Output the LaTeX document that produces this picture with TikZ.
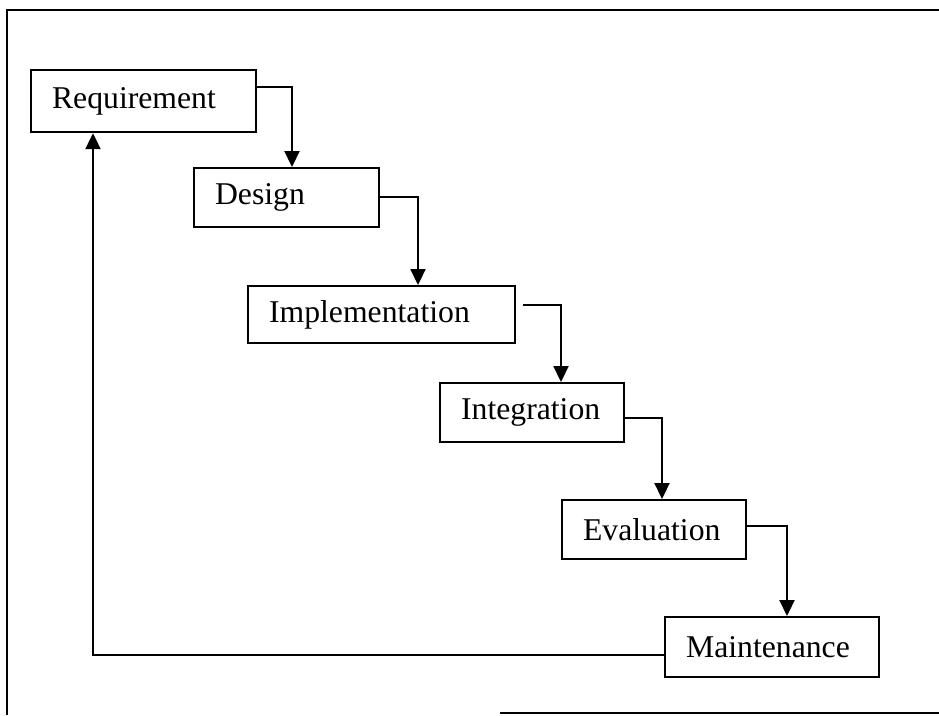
\documentclass[tikz,border=0pt]{standalone}
\usepackage{fontspec}
\setmainfont{Liberation Serif}
\usetikzlibrary{arrows.meta,calc}
\begin{document}
\begin{tikzpicture}[x=1pt,y=-1pt,
  stage/.style={draw, line width=2.2pt, rectangle, anchor=north west,
    inner xsep=21pt, inner ysep=0pt, align=left,
    font=\fontsize{31.7pt}{38pt}\selectfont},
  arr/.style={line width=2.2pt, -{Triangle[length=16pt,width=15pt]}},
  frame/.style={line width=2.2pt}]
\useasboundingbox (0,0) rectangle (939,715);
\fill[white] (0,0) rectangle (939,715);
% frame
\coordinate (f1) at (939,10);
\coordinate (f2) at (7,10);
\coordinate (f3) at (7,715);
\coordinate (f4) at (500,713);
\coordinate (f5) at (939,713);
\draw[frame] (f1) -- (f2) -- (f3);
\draw[frame] (f4) -- (f5);
% stages
\node[stage, minimum width=225pt, minimum height=62pt, text width=183pt] (req) at (30,69) {Requirement};
\node[stage, minimum width=185pt, minimum height=59pt, text width=143pt] (des) at (193,167) {Design};
\node[stage, minimum width=267pt, minimum height=57pt, text width=225pt] (imp) at (247,285) {Implementation};
\node[stage, minimum width=184pt, minimum height=59pt, text width=142pt] (int) at (439,382) {Integration};
\node[stage, minimum width=184pt, minimum height=59pt, text width=142pt] (eva) at (561,499) {Evaluation};
\node[stage, minimum width=214pt, minimum height=60pt, text width=172pt] (mnt) at (664,616) {Maintenance};
% connectors
\draw[arr] ($(req.north east)+(0,18)$) -| ($(des.north west)+(99,0)$);
\draw[arr] ($(des.north east)+(0,30)$) -| ($(imp.north west)+(171,0)$);
\draw[arr] ($(imp.north east)+(7,20)$) -| ($(int.north west)+(122,0)$);
\draw[arr] ($(int.north east)+(0,36)$) -| ($(eva.north west)+(101,0)$);
\draw[arr] ($(eva.north east)+(0,27)$) -| ($(mnt.north west)+(123,0)$);
\draw[arr] ($(mnt.north west)+(0,39)$) -| ($(req.south west)+(63,0)$);
\end{tikzpicture}
\end{document}
